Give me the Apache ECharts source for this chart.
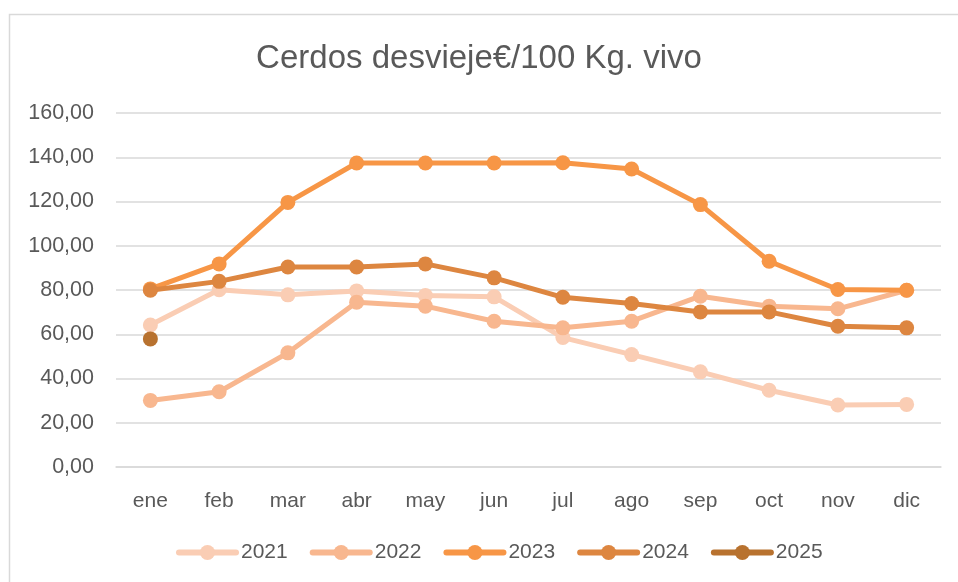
<!DOCTYPE html>
<html><head><meta charset="utf-8">
<script src="https://cdn.jsdelivr.net/npm/echarts@6/dist/echarts.min.js"></script>
<style>html,body{margin:0;padding:0;background:#fff}#c{width:958px;height:582px}</style>
</head><body><div id="c"></div>
<script>
const categories = ['ene','feb','mar','abr','may','jun','jul','ago','sep','oct','nov','dic'];
const s2021 = [64.2, 80.1, 77.8, 79.6, 77.5, 76.9, 58.5, 50.8, 43.0, 34.7, 28.0, 28.3];
const s2022 = [30.1, 34.0, 51.6, 74.5, 72.7, 65.9, 62.9, 65.9, 77.2, 72.7, 71.5, 79.9];
const s2023 = [80.5, 91.8, 119.6, 137.4, 137.4, 137.4, 137.5, 134.7, 118.6, 93.0, 80.2, 79.9];
const s2024 = [79.9, 83.9, 90.4, 90.4, 91.8, 85.5, 76.7, 73.9, 70.1, 70.1, 63.6, 62.9];
const s2025 = [57.9, null, null, null, null, null, null, null, null, null, null, null];
const seriesNames = ['2021','2022','2023','2024','2025'];
const seriesColors = ['#FACDB4','#F8B78F','#F79646','#DD8640','#B8722F'];
const seriesData = [s2021, s2022, s2023, s2024, s2025];
const yTicks = {min: 0, max: 160, interval: 20};

const font = 'Liberation Sans';
const chart = echarts.init(document.getElementById('c'));
chart.setOption({
  animation: false,
  backgroundColor: '#fff',
  graphic: [{type:'rect', shape:{x:9.5, y:14.5, width:960, height:600}, style:{fill:'none', stroke:'#D9D9D9', lineWidth:1.5}, silent:true}],
  title: {text:'Cerdos desvieje€/100 Kg. vivo', left:'center', top:37,
    textStyle:{fontFamily:font, fontSize:33, fontWeight:'normal', color:'#595959'}},
  grid: {left:116, right:17, top:113, bottom:115},
  legend: {left:171, bottom:14, itemWidth:57, itemHeight:19, itemGap:22,
    lineStyle:{width:6, cap:'round'},
    textStyle:{fontFamily:font, fontSize:21, color:'#595959'},
    data: seriesNames},
  xAxis: {type:'category', data:categories, boundaryGap:true,
    axisLine:{lineStyle:{color:'#D9D9D9', width:1.5}}, axisTick:{show:false},
    axisLabel:{fontFamily:font, fontSize:21, color:'#595959', margin:24}},
  yAxis: {type:'value', min:yTicks.min, max:yTicks.max, interval:yTicks.interval,
    axisLine:{show:false}, axisTick:{show:false},
    splitLine:{lineStyle:{color:'#D9D9D9', width:1.5}},
    axisLabel:{fontFamily:font, fontSize:21.5, color:'#595959', margin:22,
      formatter: v => v.toFixed(2).replace('.', ',')}},
  series: seriesNames.map((n,i)=>({
    name:n, type:'line', data:seriesData[i], color:seriesColors[i],
    symbol:'circle', symbolSize:15, connectNulls:false,
    lineStyle:{width:5, color:seriesColors[i], cap:'round'},
    itemStyle:{color:seriesColors[i]}, z: 2+i
  }))
});
</script></body></html>
